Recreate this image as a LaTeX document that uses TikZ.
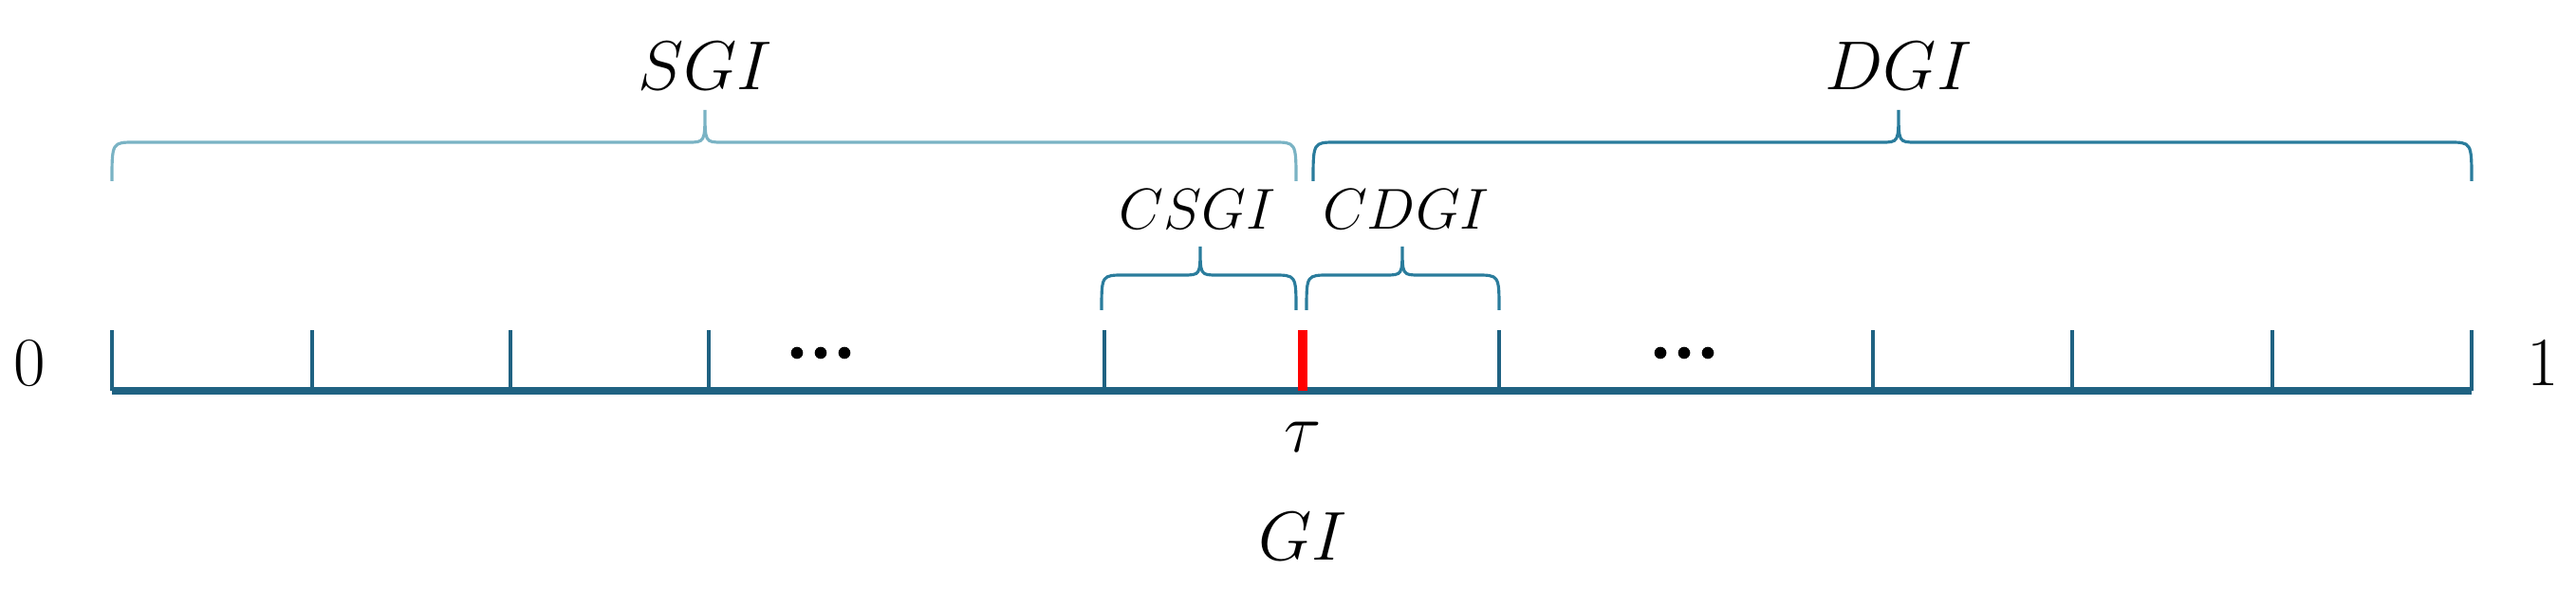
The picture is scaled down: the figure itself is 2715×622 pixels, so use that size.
\documentclass[tikz,border=0pt]{standalone}
\begin{document}
\begin{tikzpicture}[x=0.01cm,y=-0.01cm,
  axis/.style={draw=axc,line width=2.2pt},
  tk/.style={draw=axc,line width=1.4pt},
  br/.style={draw=brc,line width=0.9pt},
  dot/.style={fill=black,circle,inner sep=0pt,minimum size=3.6pt},
  lbl/.style={font=\fontsize{20}{23}\selectfont,inner sep=0pt},
  slbl/.style={font=\fontsize{17.5}{21}\selectfont,inner sep=0pt}]
\definecolor{axc}{HTML}{1F6282}
\definecolor{brc}{HTML}{2A7C9C}
\definecolor{brl}{HTML}{7AB3C4}
\useasboundingbox (0,0) rectangle (2715,622);
\newcommand{\mybrace}[7]{% a b c yend yline ytip style
  \draw[#7] (#1,#4) .. controls (#1,#5) .. (#1+24,#5) -- (#3-18,#5)
    .. controls (#3,#5) .. (#3,#6) .. controls (#3,#5) .. (#3+18,#5)
    -- (#2-24,#5) .. controls (#2,#5) .. (#2,#4);}
\coordinate (L) at (118,412);
\coordinate (R) at (2605,412);
\draw[axis] (L) -- (R);
\foreach \x in {118,329,538,747,1164,1580,1974,2184,2395,2605}
  \draw[tk] (\x,412) -- (\x,348);
\draw[red,line width=3pt] (1373,412) -- (1373,348);
\foreach \x [count=\i] in {840,865,890} \node[dot] (da\i) at (\x,372) {};
\foreach \x [count=\i] in {1750,1775,1800} \node[dot] (db\i) at (\x,372) {};
\node[lbl] (zero) at (31,383) {$0$};
\node[lbl] (one) at (2680,383) {$1$};
\node[lbl] (tau) at (1373,461) {$\tau$};
\node[lbl] (gi) at (1373,566) {$GI$};
\mybrace{118}{1366}{743}{191}{150}{116}{br,draw=brl}
\mybrace{1384}{2605}{2001}{191}{150}{116}{br}
\mybrace{1161}{1366}{1265}{327}{290}{260}{br}
\mybrace{1377}{1580}{1478}{327}{290}{260}{br}
\node[lbl] (sgi) at (743,70) {$SGI$};
\node[lbl] (dgi) at (2001,70) {$DGI$};
\node[slbl] (csgi) at (1262,221) {$CSGI$};
\node[slbl] (cdgi) at (1482,221) {$CDGI$};
\end{tikzpicture}
\end{document}
